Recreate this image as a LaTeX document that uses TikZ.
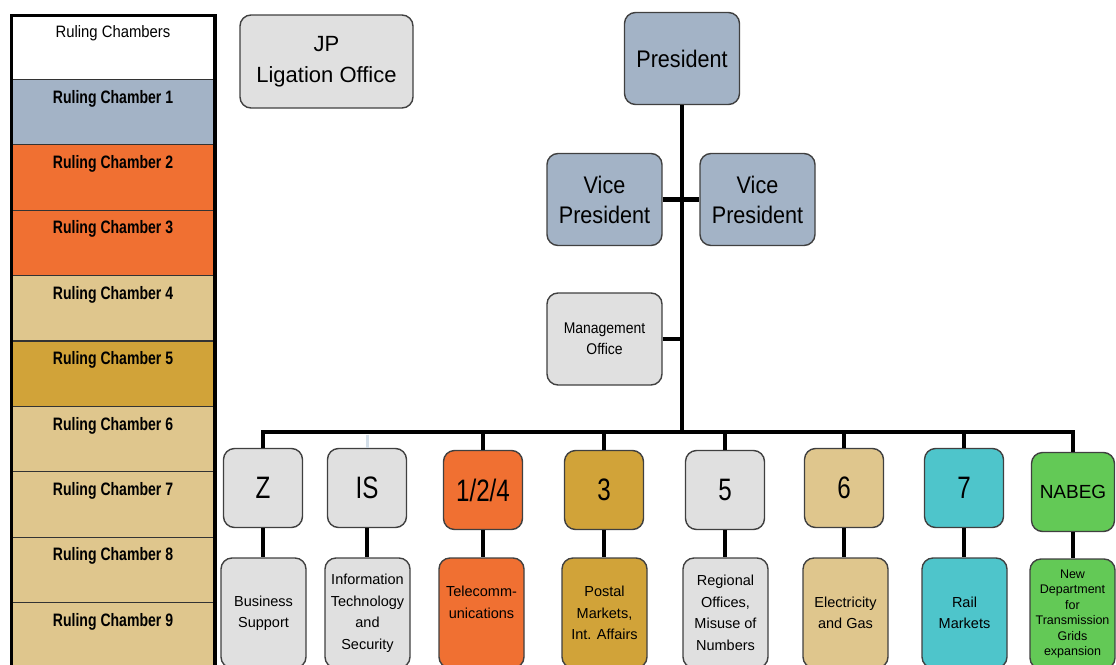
\documentclass[tikz,border=0pt]{standalone}
\usepackage{fontspec}
\setmainfont{Liberation Sans}
\newfontfamily\narrowfont[FakeStretch=0.9]{Liberation Sans}
\newfontfamily\condfont[FakeStretch=0.78]{Liberation Sans}
\usepackage{tikz}

\definecolor{edge}{HTML}{404040}
\definecolor{boxgrey}{HTML}{E0E0E0}
\definecolor{steel}{HTML}{A3B3C6}
\definecolor{chamberorange}{HTML}{F07032}
\definecolor{postgold}{HTML}{D1A339}
\definecolor{sand}{HTML}{DFC68D}
\definecolor{railteal}{HTML}{4EC5CB}
\definecolor{nabeggreen}{HTML}{63C956}
\definecolor{faintline}{HTML}{D3DEE8}

\begin{document}
\begin{tikzpicture}[x=1pt,y=-1pt,
  box/.style={draw=edge, line width=1.4pt, rounded corners=11pt, align=center, inner sep=0pt},
  head/.style={box, fill=steel, minimum width=115pt, minimum height=92pt, font=\narrowfont\fontsize{24}{30}\selectfont},
  unit/.style={box, minimum width=79pt, minimum height=79pt, font=\condfont\fontsize{31}{33}\selectfont},
  dept/.style={box, minimum width=85pt, minimum height=110pt, font=\fontsize{14.5}{21.5}\selectfont},
  link/.style={line width=4.5pt, black},
  chambertext/.style={font=\condfont\bfseries\fontsize{18}{20}\selectfont, text=black}]
\useasboundingbox (0,0) rectangle (1116,664);
\clip (0,0) rectangle (1116,664);

% ruling chambers column
\fill[white] (13,14) rectangle (214,79.4);
\node[font=\narrowfont\fontsize{16.5}{18}\selectfont] (rc0) at (113,33) {Ruling Chambers};
\foreach \i/\c in {1/steel,2/chamberorange,3/chamberorange,4/sand,5/postgold,6/sand,7/sand,8/sand,9/sand}{
  \fill[\c] (13,{14+65.4*\i}) rectangle (214,{14+65.4*(\i+1)});
  \draw[line width=1.2pt, black!80] (13,{14+65.4*\i}) -- (214,{14+65.4*\i});
  \node[chambertext] (rc\i) at (113,{33+65.4*\i}) {Ruling Chamber \i};
}
\draw[line width=3.5pt] (11.5,670) -- (11.5,15.5) -- (215,15.5) -- (215,670);

% top of the hierarchy
\node[box, fill=boxgrey, minimum width=173pt, minimum height=93pt, font=\fontsize{22}{31}\selectfont] (jp) at (326.5,61.5) {JP\\Ligation Office};
\node[head] (pres) at (682,58.5) {President};
\node[head] (vpl) at (604.5,199.5) {Vice\\President}; \node[head] (vpr) at (757.5,199.5) {Vice\\President};
\node[box, fill=boxgrey, minimum width=115pt, minimum height=92pt, font=\narrowfont\fontsize{15.5}{21}\selectfont] (mgmt) at (604.5,339) {Management\\Office};
\coordinate (bus) at (682,432);

% departments
\node[unit, fill=boxgrey] (z) at (263,488) {Z}; \node[unit, fill=boxgrey] (is) at (367,488) {IS};
\node[unit, fill=chamberorange] (u124) at (483,490) {1/2/4}; \node[unit, fill=postgold] (u3) at (604,490) {3};
\node[unit, fill=boxgrey] (u5) at (725,490) {5}; \node[unit, fill=sand] (u6) at (844,488) {6};
\node[unit, fill=railteal] (u7) at (964,488) {7};
\node[unit, fill=nabeggreen, minimum width=83pt, font=\fontsize{19}{21}\selectfont] (nabeg) at (1073,492) {NABEG};

\node[dept, fill=boxgrey] (zd) at (263.5,613) {Business\\Support};
\node[dept, fill=boxgrey] (isd) at (367.5,613) {Information\\Technology\\and\\Security};
\node[dept, fill=chamberorange] (u124d) at (481.5,613) {Telecomm-\\unications\\~};
\node[dept, fill=postgold] (u3d) at (604.5,613) {Postal\\Markets,\\Int. Affairs};
\node[dept, fill=boxgrey] (u5d) at (725.5,613) {Regional\\Offices,\\Misuse of\\Numbers};
\node[dept, fill=sand] (u6d) at (845.5,613) {Electricity\\and Gas};
\node[dept, fill=railteal] (u7d) at (964.5,613) {Rail\\Markets};
\node[dept, fill=nabeggreen, font=\fontsize{12.5}{15.4}\selectfont] (nabegd) at (1072.5,614) {New\\Department\\for\\Transmission\\Grids\\expansion};

% connectors
\draw[link] (pres.south) -- (bus); \draw[link] (vpl.east) -- (vpr.west); \draw[link] (mgmt.east) -- (mgmt.east -| bus);
\draw[link] (z.north) -- (z.north |- bus) -- (nabeg.north |- bus) -- (nabeg.north);
\draw[line width=3pt, faintline] (is.north |- bus) ++(0,2.5) -- (is.north);
\foreach \u in {u124,u3,u5,u6,u7} \draw[link] (\u.north |- bus) -- (\u.north);
\foreach \u in {z,is,u124,u3,u5,u6,u7,nabeg} \draw[link, line width=4pt] (\u.south) -- (\u.south |- \u d.north);
\end{tikzpicture}
\end{document}
